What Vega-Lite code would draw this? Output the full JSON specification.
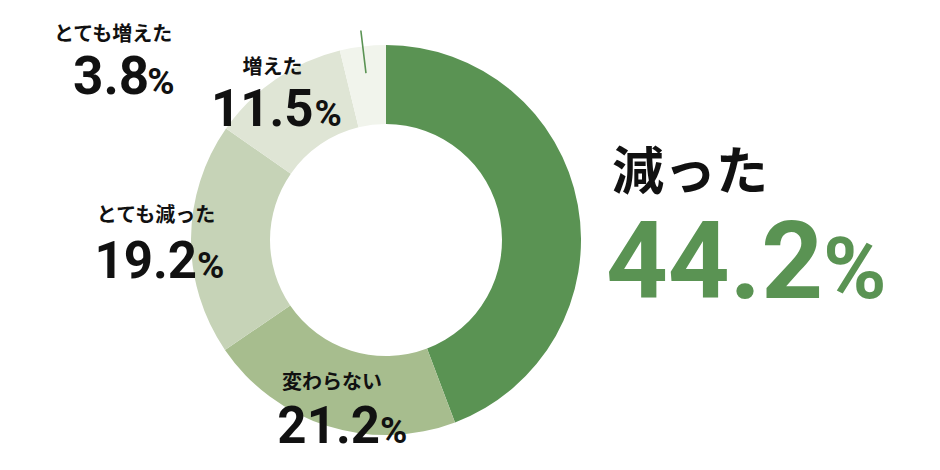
{
  "$schema": "https://vega.github.io/schema/vega-lite/v6.json",
  "width": 772,
  "height": 460,
  "autosize": {"type": "none"},
  "padding": {"left": 0, "top": 10, "right": 168, "bottom": 0},
  "background": "white",
  "config": {"view": {"stroke": null}},
  "data": {"values": [
    {"cat": "減った", "pct": 44.2, "idx": 1},
    {"cat": "変わらない", "pct": 21.2, "idx": 2},
    {"cat": "とても減った", "pct": 19.2, "idx": 3},
    {"cat": "増えた", "pct": 11.5, "idx": 4},
    {"cat": "とても増えた", "pct": 3.8, "idx": 5}
  ]},
  "encoding": {
    "theta": {"field": "pct", "type": "quantitative", "stack": true},
    "order": {"field": "idx", "type": "quantitative"}
  },
  "layer": [
    {
      "mark": {"type": "arc", "innerRadius": 116, "outerRadius": 195},
      "encoding": {
        "color": {"field": "cat", "type": "nominal", "legend": null,
          "scale": {"domain": ["減った", "変わらない", "とても減った", "増えた", "とても増えた"],
                    "range": ["#5a9353", "#a7bd8e", "#c6d3b7", "#dfe5d5", "#f1f4ec"]}}
      }
    },
    {
      "mark": {"type": "arc", "innerRadius": 168, "outerRadius": 211, "padAngle": 1.2, "fill": null, "fillOpacity": 0, "stroke": "#5a9353", "strokeWidth": 1.6},
      "encoding": {"strokeOpacity": {"condition": {"test": "datum.cat === 'とても増えた'", "value": 1}, "value": 0}}
    },
    {
      "mark": {"type": "text", "radius": 300, "dx": 9, "dy": 4, "align": "center", "baseline": "alphabetic", "font": "Noto Sans CJK JP", "fontWeight": "bold", "fontSize": 52, "color": "#111111"},
      "encoding": {"text": {"condition": {"test": "datum.cat === '減った'", "field": "cat", "type": "nominal"}, "value": ""}}
    },
    {
      "mark": {"type": "text", "radius": 300, "dx": 142, "dy": 112, "align": "right", "baseline": "alphabetic", "font": "Roboto", "fontWeight": "bold", "fontSize": 108, "color": "#5a9353"},
      "encoding": {"text": {"condition": {"test": "datum.cat === '減った'", "field": "pct", "type": "quantitative", "format": ".1f"}, "value": ""}}
    },
    {
      "mark": {"type": "text", "radius": 300, "dx": 142, "dy": 112, "align": "left", "baseline": "alphabetic", "font": "Roboto", "fontWeight": "bold", "fontSize": 86, "color": "#5a9353"},
      "encoding": {"text": {"condition": {"test": "datum.cat === '減った'", "value": "%"}, "value": ""}}
    },
    {
      "mark": {"type": "text", "radius": 160, "dx": -6, "dy": -4, "align": "center", "baseline": "alphabetic", "font": "Noto Sans CJK JP", "fontWeight": "bold", "fontSize": 20, "color": "#111111"},
      "encoding": {"text": {"condition": {"test": "datum.cat === '変わらない'", "field": "cat", "type": "nominal"}, "value": ""}}
    },
    {
      "mark": {"type": "text", "radius": 160, "dx": 42, "dy": 50, "align": "right", "baseline": "alphabetic", "font": "Roboto", "fontWeight": "bold", "fontSize": 51, "color": "#111111"},
      "encoding": {"text": {"condition": {"test": "datum.cat === '変わらない'", "field": "pct", "type": "quantitative", "format": ".1f"}, "value": ""}}
    },
    {
      "mark": {"type": "text", "radius": 160, "dx": 42, "dy": 50, "align": "left", "baseline": "alphabetic", "font": "Roboto", "fontWeight": "bold", "fontSize": 37, "color": "#111111"},
      "encoding": {"text": {"condition": {"test": "datum.cat === '変わらない'", "value": "%"}, "value": ""}}
    },
    {
      "mark": {"type": "text", "radius": 160, "dx": -70, "dy": -17, "align": "center", "baseline": "alphabetic", "font": "Noto Sans CJK JP", "fontWeight": "bold", "fontSize": 20, "color": "#111111"},
      "encoding": {"text": {"condition": {"test": "datum.cat === 'とても減った'", "field": "cat", "type": "nominal"}, "value": ""}}
    },
    {
      "mark": {"type": "text", "radius": 160, "dx": -29, "dy": 39, "align": "right", "baseline": "alphabetic", "font": "Roboto", "fontWeight": "bold", "fontSize": 51, "color": "#111111"},
      "encoding": {"text": {"condition": {"test": "datum.cat === 'とても減った'", "field": "pct", "type": "quantitative", "format": ".1f"}, "value": ""}}
    },
    {
      "mark": {"type": "text", "radius": 160, "dx": -29, "dy": 39, "align": "left", "baseline": "alphabetic", "font": "Roboto", "fontWeight": "bold", "fontSize": 37, "color": "#111111"},
      "encoding": {"text": {"condition": {"test": "datum.cat === 'とても減った'", "value": "%"}, "value": ""}}
    },
    {
      "mark": {"type": "text", "radius": 160, "dx": -23, "dy": -34, "align": "center", "baseline": "alphabetic", "font": "Noto Sans CJK JP", "fontWeight": "bold", "fontSize": 20, "color": "#111111"},
      "encoding": {"text": {"condition": {"test": "datum.cat === '増えた'", "field": "cat", "type": "nominal"}, "value": ""}}
    },
    {
      "mark": {"type": "text", "radius": 160, "dx": 18, "dy": 18, "align": "right", "baseline": "alphabetic", "font": "Roboto", "fontWeight": "bold", "fontSize": 51, "color": "#111111"},
      "encoding": {"text": {"condition": {"test": "datum.cat === '増えた'", "field": "pct", "type": "quantitative", "format": ".1f"}, "value": ""}}
    },
    {
      "mark": {"type": "text", "radius": 160, "dx": 19, "dy": 18, "align": "left", "baseline": "alphabetic", "font": "Roboto", "fontWeight": "bold", "fontSize": 37, "color": "#111111"},
      "encoding": {"text": {"condition": {"test": "datum.cat === '増えた'", "value": "%"}, "value": ""}}
    },
    {
      "mark": {"type": "text", "radius": 200, "dx": -249, "dy": 0, "align": "center", "baseline": "alphabetic", "font": "Noto Sans CJK JP", "fontWeight": "bold", "fontSize": 20, "color": "#111111"},
      "encoding": {"text": {"condition": {"test": "datum.cat === 'とても増えた'", "field": "cat", "type": "nominal"}, "value": ""}}
    },
    {
      "mark": {"type": "text", "radius": 200, "dx": -213, "dy": 53, "align": "right", "baseline": "alphabetic", "font": "Roboto", "fontWeight": "bold", "fontSize": 53, "color": "#111111"},
      "encoding": {"text": {"condition": {"test": "datum.cat === 'とても増えた'", "field": "pct", "type": "quantitative", "format": ".1f"}, "value": ""}}
    },
    {
      "mark": {"type": "text", "radius": 200, "dx": -215, "dy": 53, "align": "left", "baseline": "alphabetic", "font": "Roboto", "fontWeight": "bold", "fontSize": 37, "color": "#111111"},
      "encoding": {"text": {"condition": {"test": "datum.cat === 'とても増えた'", "value": "%"}, "value": ""}}
    }
  ]
}
